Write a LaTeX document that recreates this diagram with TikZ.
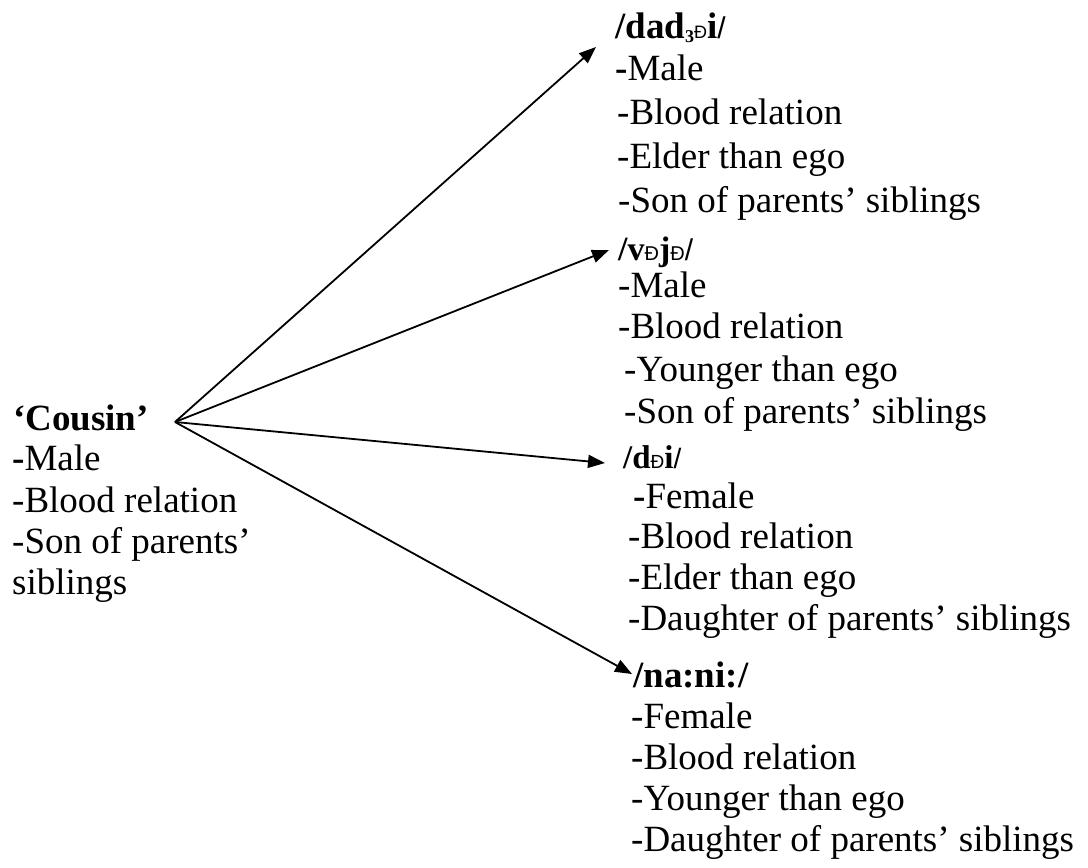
\documentclass[tikz,border=0pt]{standalone}
\usepackage{fontspec}
\setmainfont{Liberation Serif}
\newfontfamily\ethfamily{Liberation Sans}
\usetikzlibrary{arrows.meta}

% small sans-serif eth and closing slash used in the transcriptions
\newcommand{\ethgl}[1][18]{{\ethfamily\mdseries\fontsize{#1}{#1}\selectfont Ð}}
\newcommand{\tslash}[1][30]{{\ethfamily\mdseries\fontsize{#1}{#1}\selectfont /}}

\tikzset{
  txt/.style={anchor=base west, inner sep=0pt, font=\fontsize{37}{41}\selectfont},
  head/.style={anchor=base west, inner sep=0pt, font=\fontsize{37}{41}\selectfont\bfseries},
  link/.style={line width=1.8pt, -{Triangle[length=17pt,width=13pt]}}
}

\begin{document}
\begin{tikzpicture}[x=1pt,y=-1pt]
\useasboundingbox (0,0) rectangle (1088,868);

% source term
\node[head] (cz)  at (13,430) {‘Cousin’};
\node[txt]  (cz1) at (12,470) {\textbf{-}Male};
\node[txt]  (cz2) at (12,512) {-Blood relation};
\node[txt]  (cz3) at (12,553) {-Son of parents’};
\node[txt]  (cz4) at (12,594) {siblings};

% first term
\node[head] (a)  at (615,38)  {/dad\raisebox{-4pt}{\fontsize{18}{18}\selectfont 3}\ethgl i\tslash};
\node[txt]  (a1) at (615,80)  {\textbf{-}Male};
\node[txt]  (a2) at (617,124) {-Blood relation};
\node[txt]  (a3) at (617,168) {-Elder than ego};
\node[txt]  (a4) at (618,212) {-Son of parents’ siblings};

% second term
\node[head, font=\fontsize{34}{38}\selectfont\bfseries] (b) at (618,260) {/v\ethgl[20]j\ethgl[20]\tslash[30]};
\node[txt]  (b1) at (618,297) {-Male};
\node[txt]  (b2) at (618,338) {-Blood relation};
\node[txt]  (b3) at (624,381) {-Younger than ego};
\node[txt]  (b4) at (624,423) {-Son of parents’ siblings};

% third term
\node[head, font=\fontsize{33}{37}\selectfont\bfseries] (c) at (623,468) {/d\ethgl[19]i\tslash[28]};
\node[txt]  (c1) at (633,508) {\textbf{-}Female};
\node[txt]  (c2) at (628,548) {-Blood relation};
\node[txt]  (c3) at (628,589) {-Elder than ego};
\node[txt]  (c4) at (628,630) {-Daughter of parents’ siblings};

% fourth term
\node[head] (d)  at (633,687) {/na:ni:/};
\node[txt]  (d1) at (631,728) {-Female};
\node[txt]  (d2) at (631,769) {-Blood relation};
\node[txt]  (d3) at (631,810) {-Younger than ego};
\node[txt]  (d4) at (631,851) {-Daughter of parents’ siblings};

% arrows from the source term
\coordinate (o)  at (175,422);
\coordinate (ta) at (596,47);
\coordinate (tb) at (609,250);
\coordinate (tc) at (605,463);
\coordinate (td) at (632,674);
\draw[link] (o) -- (ta);
\draw[link] (o) -- (tb);
\draw[link] (o) -- (tc);
\draw[link] (o) -- (td);
\end{tikzpicture}
\end{document}
